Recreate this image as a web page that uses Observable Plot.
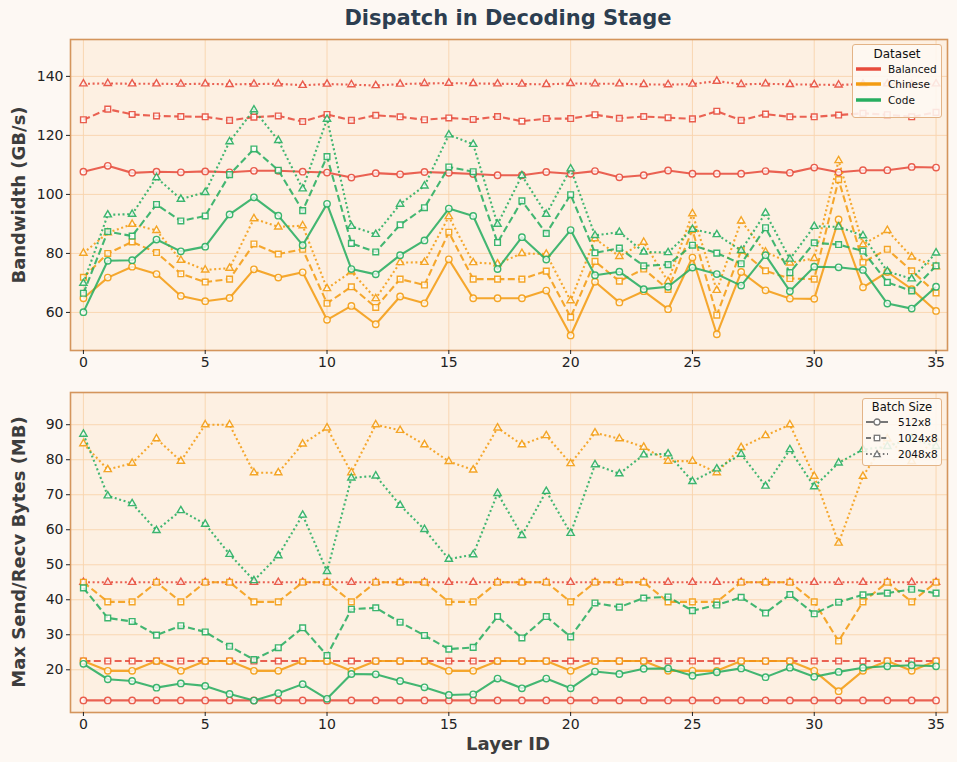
<!DOCTYPE html>
<html><head><meta charset="utf-8">
<script src="https://cdn.jsdelivr.net/npm/d3@7"></script>
<script src="https://cdn.jsdelivr.net/npm/@observablehq/plot@0.6"></script>
<style>
body{margin:0;background:#fdf8f3;font-family:"DejaVu Sans",sans-serif;}
#wrap{position:relative;width:957px;height:762px;overflow:hidden;}
#title{position:absolute;left:508px;top:18px;transform:translate(-50%,-50%);font-weight:bold;font-size:21px;color:#2c3e50;white-space:nowrap;}
.ylab{position:absolute;transform:translate(-50%,-50%) rotate(-90deg);font-weight:bold;font-size:18px;color:#3d3d3d;white-space:nowrap;}
#xlab{position:absolute;left:508px;top:743px;transform:translate(-50%,-50%);font-weight:bold;font-size:18px;color:#3d3d3d;white-space:nowrap;}
#top{position:absolute;left:0;top:30px;}
#bottom{position:absolute;left:0;top:380px;}
.legend{position:absolute;background:rgba(254,248,242,0.88);border:1px solid #e3b487;border-radius:3px;box-sizing:border-box;}
.legend .lt{text-align:center;color:#111;}
.legend .row{display:flex;align-items:center;color:#111;}
</style></head><body>
<div id="wrap">
  <div id="title">Dispatch in Decoding Stage</div>
  <div id="top"></div>
  <div id="bottom"></div>
  <div class="ylab" style="left:18px;top:194.5px;">Bandwidth (GB/s)</div>
  <div class="ylab" style="left:18px;top:552px;">Max Send/Recv Bytes (MB)</div>
  <div id="xlab">Layer ID</div>
  <div id="leg1" class="legend" style="left:852px;top:44px;width:90px;height:74px;"></div>
  <div id="leg2" class="legend" style="left:862px;top:398px;width:80px;height:68px;"></div>
</div>
<script>
const layers = d3.range(36);
const datasets = ["Balanced", "Chinese", "Code"];
const batchSizes = ["512x8", "1024x8", "2048x8"];
const colors = ["#e74c3c", "#f39c12", "#27ae60"];
const xTicks = [0, 5, 10, 15, 20, 25, 30, 35];
const bwTicks = [60, 80, 100, 120, 140];
const mbTicks = [20, 30, 40, 50, 60, 70, 80, 90];

// Bandwidth (GB/s)
const bwBalanced512 = [107.7,109.7,107.3,107.7,107.5,107.8,107.5,108.0,108.0,107.7,107.4,105.7,107.2,106.8,107.6,107.3,106.9,106.5,106.5,107.6,107.0,107.9,105.8,106.5,108.1,107.0,107.0,107.0,107.9,107.3,109.1,107.5,108.2,108.2,109.3,109.1];
const bwBalanced1024 = [125.3,128.9,127.1,126.6,126.4,126.3,125.1,126.2,126.6,124.7,127.1,125.1,126.8,126.3,125.3,125.9,125.4,126.4,124.8,125.7,125.7,127.0,125.8,126.4,126.0,125.6,128.2,125.1,127.2,126.3,126.3,126.9,127.5,127.0,126.3,127.8];
const bwBalanced2048 = [137.5,137.6,137.5,137.5,137.4,137.5,137.3,137.4,137.5,137.0,137.4,137.2,136.9,137.4,137.6,137.7,137.6,137.5,137.4,137.3,137.6,137.5,137.5,137.3,137.2,137.4,138.4,137.3,137.5,137.3,137.2,137.1,137.4,137.5,137.2,137.5];
const bwChinese512 = [64.8,71.8,75.5,73.0,65.6,63.8,64.9,74.6,71.8,73.6,57.5,62.2,56.0,65.4,63.1,78.0,64.8,64.8,64.8,67.4,52.2,70.4,63.4,67.2,61.1,78.6,52.6,73.7,67.5,64.7,64.6,91.5,68.5,73.7,67.9,60.5];
const bwChinese1024 = [71.9,80.0,83.9,80.3,73.1,70.3,71.3,83.2,79.8,81.4,63.1,68.7,61.7,71.3,69.3,87.2,71.3,71.3,71.3,74.0,58.4,77.3,70.6,74.7,67.8,88.0,59.1,81.0,74.1,71.5,71.3,105.0,77.0,81.4,74.1,66.6];
const bwChinese2048 = [80.1,87.0,89.9,87.8,77.7,74.4,75.0,91.8,89.0,89.4,68.1,73.8,64.7,76.9,77.0,92.5,76.9,76.5,80.0,79.8,64.0,85.0,79.0,83.8,70.5,93.5,67.5,91.0,80.5,76.8,78.3,111.5,83.0,87.8,78.8,75.5];
const bwCode512 = [60.1,77.5,77.7,84.7,80.7,82.3,93.2,99.0,92.8,82.8,96.8,74.7,72.9,79.4,84.4,95.2,92.7,74.7,85.5,77.9,87.9,72.6,73.8,67.9,68.7,75.2,73.0,69.1,79.4,67.2,75.5,75.3,74.4,63.0,61.3,68.7];
const bwCode1024 = [66.5,87.4,85.9,96.6,91.0,92.7,106.7,115.4,108.2,94.5,112.8,83.4,80.5,89.7,95.5,109.3,107.7,83.7,97.8,86.8,99.9,80.2,81.8,75.8,76.2,82.8,80.1,76.5,88.7,73.5,83.6,83.0,80.8,70.2,67.3,75.8];
const bwCode2048 = [69.9,93.1,93.3,105.7,98.4,100.7,117.9,128.7,118.3,101.9,125.5,89.2,86.5,96.7,102.9,120.2,117.0,89.9,106.4,93.3,108.7,86.1,87.2,80.5,80.3,88.2,86.4,81.0,93.7,78.1,89.2,89.0,86.0,73.9,71.4,80.2];

// Max Send/Recv Bytes (MB)
const mbBalanced512 = Array(36).fill(11.25);
const mbBalanced1024 = Array(36).fill(22.5);
const mbBalanced2048 = Array(36).fill(45);
const mbChinese512 = [22.5,19.7,19.7,22.5,19.7,22.5,22.5,19.7,19.7,22.5,22.5,19.7,22.5,22.5,22.5,19.7,19.7,22.5,22.5,22.5,19.7,22.5,22.5,22.5,19.7,19.7,19.7,22.5,22.5,22.5,19.7,13.9,19.7,22.5,19.7,22.5];
const mbChinese1024 = [45,39.4,39.4,45,39.4,45,45,39.4,39.4,45,45,39.4,45,45,45,39.4,39.4,45,45,45,39.4,45,45,45,39.4,39.4,39.4,45,45,45,39.4,28.2,39.4,45,39.4,45];
const mbChinese2048 = [84.6,77.2,79.0,86.0,79.6,90.0,90.0,76.3,76.3,84.5,89.1,76.3,90.0,88.4,84.3,79.5,77.1,89.1,84.3,86.9,78.9,87.7,86.0,83.6,79.6,79.6,76.3,83.5,86.9,90.0,75.3,56.2,75.3,86.0,79.5,86.0];
const mbCode512 = [21.7,17.3,16.8,14.9,16.1,15.4,13.1,11.2,13.3,15.9,11.7,18.8,18.7,16.8,15.0,12.8,13.0,17.5,14.7,17.5,14.7,19.5,18.8,20.3,20.4,18.3,19.3,20.4,17.9,20.6,18.0,19.4,20.6,21.0,21.3,21.0];
const mbCode1024 = [43.4,34.8,33.8,29.9,32.6,30.8,26.7,22.9,26.3,32.0,24.1,37.3,37.7,33.6,29.8,25.9,26.4,35.2,29.1,35.2,29.4,39.1,37.9,40.5,40.8,36.9,38.5,40.7,36.2,41.5,36.0,39.3,41.4,41.9,43.0,41.9];
const mbCode2048 = [87.3,69.7,67.5,59.8,65.5,61.6,53.0,45.5,52.6,64.2,48.1,74.8,75.4,67.0,60.1,51.6,52.9,70.4,58.4,71.0,59.0,78.6,76.0,81.4,81.7,73.8,77.4,81.6,72.5,82.9,72.3,79.1,82.9,83.8,86.0,83.8];

const bwSeries = {
  Balanced: [bwBalanced512, bwBalanced1024, bwBalanced2048],
  Chinese: [bwChinese512, bwChinese1024, bwChinese2048],
  Code: [bwCode512, bwCode1024, bwCode2048]
};
const mbSeries = {
  Balanced: [mbBalanced512, mbBalanced1024, mbBalanced2048],
  Chinese: [mbChinese512, mbChinese1024, mbChinese2048],
  Code: [mbCode512, mbCode1024, mbCode2048]
};

const symbols = {"512x8": "circle", "1024x8": "square", "2048x8": "triangle"};
const dashes = {"512x8": null, "1024x8": "7,3.4", "2048x8": "2,2.6"};
const radius = {"512x8": 3.2, "1024x8": 3.2, "2048x8": 2.7};

function makeRows(series, ds, bi) {
  return layers.map((l, i) => ({layer: l, value: series[ds][bi][i], dataset: ds, batch: batchSizes[bi]}));
}

function panel(series, opts) {
  const marks = [
    Plot.frame({fill: "#fdf0e2", stroke: null}),
    Plot.gridX(xTicks, {stroke: "#f8d4ad", strokeOpacity: 0.9, strokeWidth: 1}),
    Plot.gridY(opts.yTicks, {stroke: "#f8d4ad", strokeOpacity: 0.9, strokeWidth: 1})
  ];
  for (const ds of datasets) {
    batchSizes.forEach((b, bi) => {
      const rows = makeRows(series, ds, bi);
      marks.push(Plot.line(rows, {x: "layer", y: "value", stroke: "dataset", strokeWidth: 2.1, strokeOpacity: 0.87, strokeDasharray: dashes[b], strokeLinecap: "butt", strokeLinejoin: "round"}));
      marks.push(Plot.dot(rows, {x: "layer", y: "value", stroke: "dataset", symbol: symbols[b], r: radius[b], fill: "white", fillOpacity: 0.75, strokeWidth: 1.4, strokeOpacity: 0.9}));
    });
  }
  marks.push(Plot.frame({stroke: "#d4955c", strokeWidth: 1.6}));
  marks.push(Plot.axisX(xTicks, {tickSize: 4, tickPadding: 3, label: null, fontSize: 14}));
  marks.push(Plot.axisY(opts.yTicks, {tickSize: 4, tickPadding: 3, label: null, fontSize: 14}));
  return Plot.plot({
    width: 957, height: opts.height,
    marginLeft: 70, marginRight: 10, marginTop: opts.marginTop, marginBottom: opts.marginBottom,
    x: {domain: [-0.53, 35.47], axis: null},
    y: {domain: opts.yDomain, axis: null},
    color: {domain: datasets, range: colors},
    style: {background: "transparent", fontFamily: "DejaVu Sans, sans-serif", fontSize: "14px", color: "#222", overflow: "visible"},
    marks
  });
}

document.getElementById("top").append(panel(bwSeries, {height: 350, marginTop: 9, marginBottom: 30, yDomain: [47.1, 152.5], yTicks: bwTicks}));
document.getElementById("bottom").append(panel(mbSeries, {height: 382, marginTop: 12, marginBottom: 50, yDomain: [7.8, 99.2], yTicks: mbTicks}));

// Legends
const leg1 = document.getElementById("leg1");
leg1.innerHTML = `<div class="lt" style="font-size:12px;margin-top:2px;line-height:14px;">Dataset</div>` +
  datasets.map((d, i) => `<div class="row" style="height:15.5px;font-size:10.5px;margin-left:3px;"><svg width="32" height="10"><line x1="0" x2="25" y1="5" y2="5" stroke="${colors[i]}" stroke-width="3.5"/></svg><span>${d}</span></div>`).join("");

const leg2 = document.getElementById("leg2");
const legSym = {
  "512x8": `<circle cx="11" cy="5" r="3" fill="white" stroke="#777" stroke-width="1.3"/>`,
  "1024x8": `<rect x="8.3" y="2.3" width="5.4" height="5.4" fill="white" stroke="#777" stroke-width="1.3"/>`,
  "2048x8": `<path d="M11,1.8 L14.2,7.6 L7.8,7.6 Z" fill="white" stroke="#777" stroke-width="1.3"/>`
};
leg2.innerHTML = `<div class="lt" style="font-size:11.5px;margin-top:2px;line-height:13px;">Batch Size</div>` +
  batchSizes.map(b => `<div class="row" style="height:16px;font-size:10.5px;margin-left:3px;"><svg width="32" height="10"><line x1="0" x2="22" y1="5" y2="5" stroke="#777" stroke-width="2" ${dashes[b] ? `stroke-dasharray="${b === "1024x8" ? "5,2.6" : "1.6,2.6"}"` : ""}/>${legSym[b]}</svg><span>${b}</span></div>`).join("");
</script>
</body></html>
